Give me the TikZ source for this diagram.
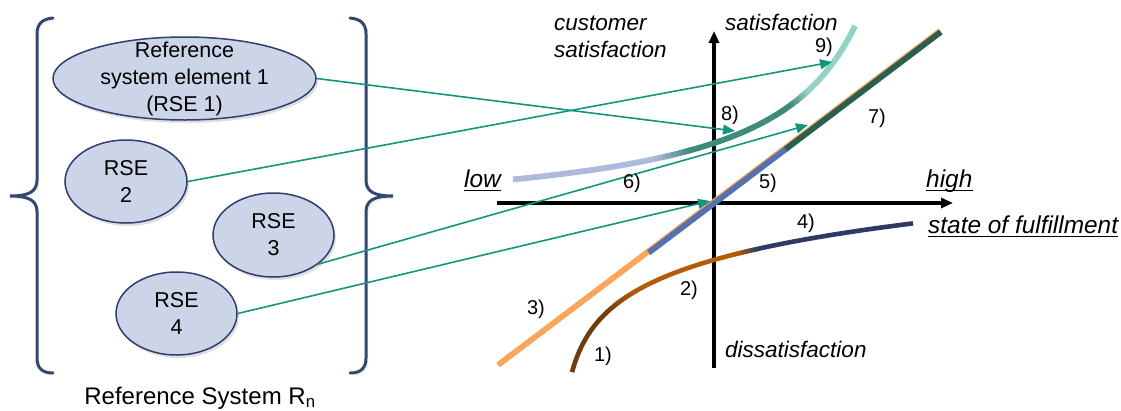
\documentclass[tikz,border=0pt]{standalone}
\usepackage{fontspec}
\setmainfont{Liberation Sans}
\usetikzlibrary{arrows.meta,shapes.geometric,shadows}
\definecolor{rsefill}{HTML}{CCD5E8}
\definecolor{rsedraw}{HTML}{2C3F6E}
\definecolor{bracec}{HTML}{34486F}
\definecolor{lnkc}{HTML}{13957E}
\definecolor{orng}{HTML}{F8A65C}
\definecolor{bluel}{HTML}{5670B0}
\definecolor{dgreen}{HTML}{2B5E4F}
\definecolor{brownD}{HTML}{6E3C0E}
\definecolor{brownM}{HTML}{B35C08}
\definecolor{navy}{HTML}{2E3A64}
\definecolor{greyblue}{HTML}{ADBADB}
\definecolor{tealM}{HTML}{3E8A7B}
\definecolor{tealL}{HTML}{94D2C7}
\newcommand\fsz[1]{\fontsize{#1}{27}\selectfont}
\newcommand\gradplot[5]{%
  \foreach \k in {0,...,9}{%
    \pgfmathsetmacro\xa{#2+(#3-#2)*\k/10}%
    \pgfmathsetmacro\xb{#2+(#3-#2)*(\k+1)/10+0.6}%
    \pgfmathtruncatemacro\pc{95-10*\k}%
    \draw[crv,draw=#4!\pc!#5,domain=\xa:\xb,samples=4] plot (\x,{#1(\x)});}}

\begin{document}
\begin{tikzpicture}[x=1pt,y=-1pt,
  declare function={fa(\t)=481.5-44*ln(\t-560);fb(\t)=222-186.25/((950-\t)/100);fc(\t)=365-0.7557*(\t-498);},
  rse/.style={ellipse,draw=rsedraw,line width=1.5pt,fill=rsefill,inner sep=0pt,
    drop shadow={opacity=0.25,shadow xshift=2pt,shadow yshift=-3pt}},
  rsetxt/.style={align=center,inner sep=0pt,font=\fsz{21.5}},
  lbl/.style={inner sep=0pt,anchor=base west,font=\fsz{22.5}\itshape},
  ulbl/.style={lbl,font=\fsz{24.4}\itshape},
  uline/.style={line width=1.5pt},
  num/.style={inner sep=0pt,font=\fsz{20}},
  axisln/.style={line width=3.2pt,-{Triangle[length=12pt,width=10pt]}},
  lnk/.style={draw=lnkc,line width=1.6pt,-{Triangle[length=12pt,width=10pt]}},
  crv/.style={line width=5.8pt},
  brc/.style={draw=bracec,line width=3pt,line cap=round,
    preaction={draw=black!15,transform canvas={shift={(2pt,-2pt)}}}}]
\useasboundingbox (0,0) rectangle (1121,410);
\draw[brc] (53,18) .. controls (42,19) and (37,24) .. (37,34) -- (37,180)
  .. controls (37,191) and (30,196) .. (10,196) .. controls (30,196) and (37,201) .. (37,212)
  -- (37,358) .. controls (37,368) and (42,373) .. (53,373);
\draw[brc] (350,18) .. controls (361,19) and (366,24) .. (366,34) -- (366,180)
  .. controls (366,191) and (373,196) .. (393,196) .. controls (373,196) and (366,201) .. (366,212)
  -- (366,358) .. controls (366,368) and (361,373) .. (350,373);
\node[rse,minimum width=263pt,minimum height=83pt] (rse1) at (184.5,78.5) {};
\node[rsetxt] (rse1t) at (rse1) {Reference\\system element 1\\(RSE 1)};
\node[rse,minimum width=122pt,minimum height=83pt] (rse2) at (126,181.5) {};
\node[rsetxt] (rse2t) at (rse2) {RSE\\2};
\node[rse,minimum width=121pt,minimum height=84pt] (rse3) at (273.5,235) {};
\node[rsetxt] (rse3t) at (rse3) {RSE\\3};
\node[rse,minimum width=121pt,minimum height=83pt] (rse4) at (176.5,313.5) {};
\node[rsetxt] (rse4t) at (rse4) {RSE\\4};
\node[font=\fsz{24},anchor=base] (refsys) at (200,404) {Reference System R\textsubscript{n}};
\coordinate (xl) at (497,203);
\coordinate (xr) at (953,203);
\coordinate (yb) at (714,368);
\coordinate (yt) at (714,31);
\draw[axisln] (xl) -- (xr);
\draw[axisln] (yb) -- (yt);
\begin{scope}[crv/.append style={line width=4.6pt}]
\draw[crv,brownD,domain=572:606,samples=20] plot (\x,{fa(\x)});
\gradplot{fa}{605}{635}{brownD}{brownM}
\draw[crv,brownM,domain=634:738,samples=30] plot (\x,{fa(\x)});
\gradplot{fa}{737}{757}{brownM}{navy}
\draw[crv,navy,domain=756:913,samples=30] plot (\x,{fa(\x)});
\end{scope}
\draw[crv,greyblue,domain=513:656,samples=30] plot (\x,{fb(\x)});
\gradplot{fb}{655}{690}{greyblue}{tealM}
\draw[crv,tealM,domain=689:791,samples=30] plot (\x,{fb(\x)});
\gradplot{fb}{790}{808}{tealM}{tealL}
\draw[crv,tealL,domain=807:855,samples=30] plot (\x,{fb(\x)});
\draw[crv,orng,domain=498:940,samples=2] plot (\x,{fc(\x)});
\begin{scope}[shift={(0.8pt,-1pt)}]
\draw[crv,bluel,domain=648:786,samples=2] plot (\x,{fc(\x)});
\draw[crv,dgreen,domain=785:940,samples=2] plot (\x,{fc(\x)});
\end{scope}
\coordinate (p8) at (735,131);
\coordinate (p9) at (832,62);
\coordinate (p7) at (808,125);
\coordinate (p0) at (710,201);
\draw[lnk] (rse1.east) -- (p8);
\draw[lnk] (rse2.east) -- (p9);
\draw[lnk] (rse3.-33) -- (p7);
\draw[lnk] (rse4.east) -- (p0);
\node[lbl,align=left,anchor=west] (ysat) at (554,37) {customer\\satisfaction};
\node[lbl] (sat) at (725,30) {satisfaction};
\node[lbl] (dis) at (725,357.5) {dissatisfaction};
\node[ulbl] (low) at (464,187) {low};
\node[ulbl] (high) at (926,187) {high};
\node[ulbl] (sof) at (928,233) {state of fulfillment};
\foreach \u in {low,high,sof}
  \draw[uline] ([yshift=-3.5pt]\u.base west) -- ([yshift=-3.5pt]\u.base east);
\node[num] (n1) at (603,356) {1)};
\node[num] (n2) at (689,290.5) {2)};
\node[num] (n3) at (536,309) {3)};
\node[num] (n4) at (806,223) {4)};
\node[num] (n5) at (768,183) {5)};
\node[num] (n6) at (632,183) {6)};
\node[num] (n7) at (877,118) {7)};
\node[num] (n8) at (730,115) {8)};
\node[num] (n9) at (824,47.5) {9)};
\end{tikzpicture}
\end{document}
